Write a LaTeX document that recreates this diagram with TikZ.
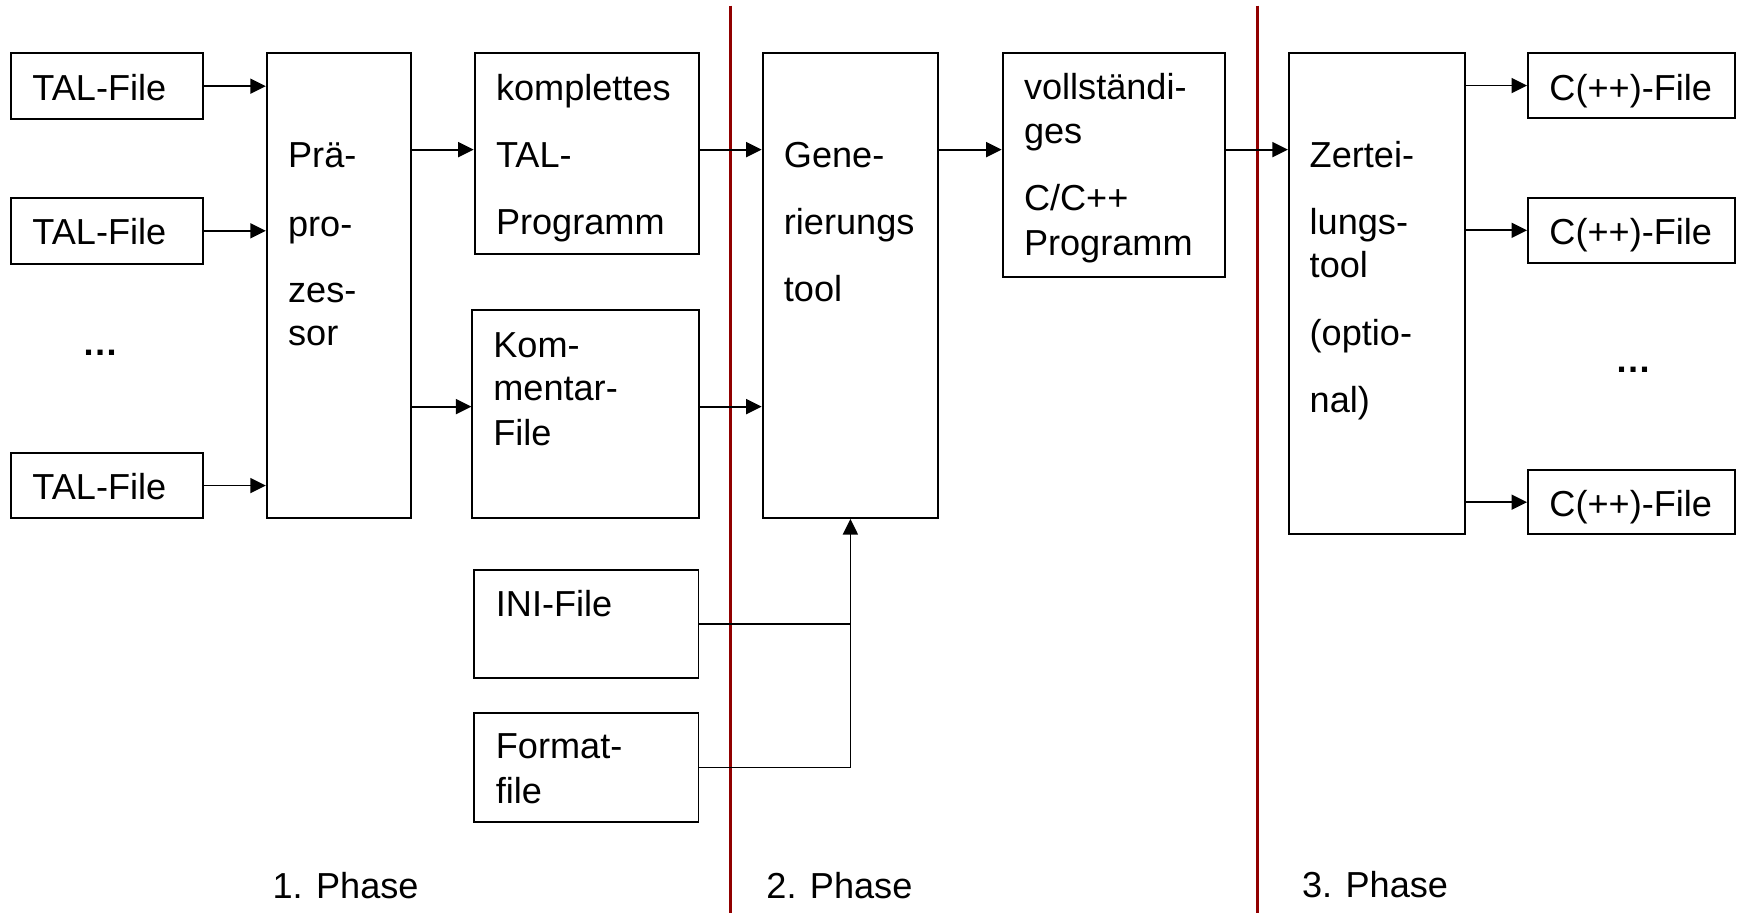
\documentclass[tikz,border=0pt]{standalone}
\usepackage{fontspec}
\setmainfont{Liberation Sans}
\usetikzlibrary{arrows.meta}
\definecolor{phasered}{RGB}{145,0,0}
\begin{document}
\begin{tikzpicture}[x=1pt,y=-1pt,
  bx/.style={draw, line width=1.7pt, rectangle, inner sep=0pt},
  txt/.style={anchor=base west, inner sep=0pt, font=\fontsize{32.5}{39}\selectfont},
  arr/.style={line width=1.6pt, -{Triangle[length=14pt,width=13.5pt]}},
  ln/.style={line width=1.6pt},
  phaseline/.style={draw=phasered, line width=2.5pt}]
\useasboundingbox (0,0) rectangle (1568,821);

% phase separators
\draw[phaseline] (657.4,5) -- (657.4,821);
\draw[phaseline] (1131.5,5) -- (1131.5,821);

% row coordinates
\coordinate (rA) at (0,134.6);
\coordinate (rB) at (0,365.8);

% boxes
\node[bx, minimum width=173pt, minimum height=59pt] (tal1) at (96.5,77.5) {};
\node[bx, minimum width=173pt, minimum height=59pt] (tal2) at (96.5,207.6) {};
\node[bx, minimum width=173pt, minimum height=59pt] (tal3) at (96.5,436.8) {};
\node[bx, minimum width=130pt, minimum height=418pt] (pra) at (305,257) {};
\node[bx, minimum width=202pt, minimum height=180.6pt] (kompl) at (528,138.3) {};
\node[bx, minimum width=204pt, minimum height=187pt] (komm) at (527,372.5) {};
\node[bx, minimum width=202pt, minimum height=97pt] (ini) at (527.4,561.5) {};
\node[bx, minimum width=202pt, minimum height=97.6pt] (fmt) at (527.4,690.5) {};
\node[bx, minimum width=158pt, minimum height=418pt] (gen) at (765,257) {};
\node[bx, minimum width=200pt, minimum height=200.8pt] (voll) at (1002,148.4) {};
\node[bx, minimum width=158.6pt, minimum height=432pt] (zert) at (1238.7,264) {};
\node[bx, minimum width=186pt, minimum height=58pt] (cpp1) at (1467.6,77) {};
\node[bx, minimum width=186pt, minimum height=58.4pt] (cpp2) at (1467.6,207.2) {};
\node[bx, minimum width=186pt, minimum height=57.6pt] (cpp3) at (1467.6,451.8) {};

% texts
\node[txt] (t-tal1) at (29,90.5) {TAL-File};
\node[txt] (t-tal2) at (29,219.9) {TAL-File};
\node[txt] (t-tal3) at (29,449) {TAL-File};
\node[txt] (t-dots1) at (74,320) {\bfseries …};

\node[txt] (t-pra1) at (259,150.4) {Prä-};
\node[txt] (t-pra2) at (259,213) {pro-};
\node[txt] (t-pra3) at (259,272) {zes-};
\node[txt] (t-pra4) at (259,310.8) {sor};

\node[txt] (t-kompl1) at (446,90.5) {komplettes};
\node[txt] (t-kompl2) at (446,151) {TAL-};
\node[txt] (t-kompl3) at (446,211) {Programm};

\node[txt] (t-komm1) at (443.6,321.7) {Kom-};
\node[txt] (t-komm2) at (443.6,360.5) {mentar-};
\node[txt] (t-komm3) at (443.6,400.8) {File};

\node[txt] (t-ini) at (445.9,554.2) {INI-File};
\node[txt] (t-fmt1) at (445.9,682.5) {Format-};
\node[txt] (t-fmt2) at (445.9,722.8) {file};

\node[txt] (t-gen1) at (705,150.4) {Gene-};
\node[txt] (t-gen2) at (705,211) {rierungs};
\node[txt] (t-gen3) at (705,271.4) {tool};

\node[txt] (t-voll1) at (921,89.9) {vollständi-};
\node[txt] (t-voll2) at (921,129.3) {ges};
\node[txt] (t-voll3) at (921,189.2) {C/C++};
\node[txt] (t-voll4) at (921,230) {Programm};

\node[txt] (t-zert1) at (1178,150.4) {Zertei-};
\node[txt] (t-zert2) at (1178,211) {lungs-};
\node[txt] (t-zert3) at (1178,249.7) {tool};
\node[txt] (t-zert4) at (1178,310.8) {(optio-};
\node[txt] (t-zert5) at (1178,370.7) {nal)};

\node[txt] (t-cpp1) at (1393.7,90) {C(++)-File};
\node[txt] (t-cpp2) at (1393.7,220) {C(++)-File};
\node[txt] (t-cpp3) at (1393.7,464.4) {C(++)-File};
\node[txt] (t-dots2) at (1453,335) {\bfseries …};

\node[txt] (ph1) at (245,808) {1. Phase};
\node[txt] (ph2) at (689.3,808) {2. Phase};
\node[txt] (ph3) at (1171.2,807.5) {3. Phase};

% connectors
\draw[arr] (tal1.east) -- (tal1.east -| pra.west);
\draw[arr] (tal2.east) -- (tal2.east -| pra.west);
\draw[arr] (tal3.east) -- (tal3.east -| pra.west);
\draw[arr] (pra.east |- rA) -- (kompl.west |- rA);
\draw[arr] (pra.east |- rB) -- (komm.west |- rB);
\draw[arr] (kompl.east |- rA) -- (gen.west |- rA);
\draw[arr] (komm.east |- rB) -- (gen.west |- rB);
\draw[arr] (gen.east |- rA) -- (voll.west |- rA);
\draw[arr] (voll.east |- rA) -- (zert.west |- rA);
\draw[ln] (ini.east) -- (ini.east -| gen.south);
\draw[arr] (fmt.east) -| (gen.south);
\draw[arr] (zert.east |- cpp1.west) -- (cpp1.west);
\draw[arr] (zert.east |- cpp2.west) -- (cpp2.west);
\draw[arr] (zert.east |- cpp3.west) -- (cpp3.west);
\end{tikzpicture}
\end{document}
